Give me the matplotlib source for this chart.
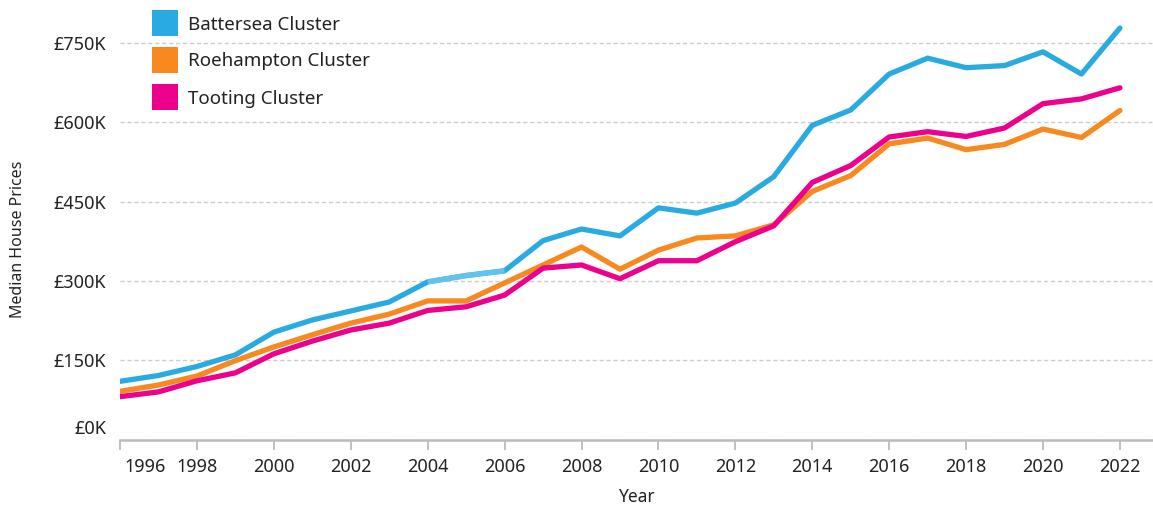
import matplotlib
matplotlib.use("Agg")
import matplotlib.pyplot as plt
import matplotlib.transforms as mtransforms
from matplotlib.patches import Rectangle

years = list(range(1996, 2023))
battersea = [110, 121, 138, 160, 203, 226, 243, 260, 298, 310, 319, 376, 398, 385, 438, 428, 447, 497,
             594, 623, 691, 721, 703, 707, 733, 691, 778]
roehampton = [91, 103, 120, 149, 175, 198, 220, 237, 262, 262, 296, 330, 364, 322, 358, 381, 385, 406,
              469, 499, 559, 570, 548, 558, 587, 571, 622]
tooting = [81, 90, 111, 126, 162, 186, 207, 220, 244, 251, 273, 324, 330, 304, 338, 338, 374, 404,
           486, 518, 572, 582, 573, 589, 635, 644, 665]
highlight_years = [2004, 2005, 2006]
series_names = ["Battersea Cluster", "Roehampton Cluster", "Tooting Cluster"]
y_ticks = [0, 150, 300, 450, 600, 750]
x_ticks = list(range(1996, 2023, 2))

colors = ["#29abe2", "#f7891f", "#ec008c"]
light_blue = "#62c3ec"

plt.rcParams['font.family'] = ['Noto Sans', 'DejaVu Sans']
W, H = 1153, 509
fig = plt.figure(figsize=(W / 100, H / 100), dpi=100)
ax = fig.add_axes([120 / W, (H - 439.5) / H, (W - 120) / W, 439.5 / H])

lw = 3.8
for vals, c in [(roehampton, colors[1]), (tooting, colors[2]), (battersea, colors[0])]:
    ax.plot(years, vals, color=c, lw=lw, solid_capstyle='round', solid_joinstyle='round', zorder=3)
# lighter highlighted segment on Battersea
idx = [years.index(y) for y in highlight_years]
ax.plot(highlight_years, [battersea[i] for i in idx], color=light_blue, lw=lw,
        solid_capstyle='butt', solid_joinstyle='round', zorder=4)

ax.set_xlim(1996, 2022.86)
ax.set_ylim(0, 831)
ax.set_yticks(y_ticks)
ax.set_yticklabels([f"£{v}K" for v in y_ticks])
ax.set_xticks(x_ticks)
ax.set_xticklabels([str(x) for x in x_ticks])

ax.grid(axis='y', color='#cccccc', linestyle=(0, (3, 2)), linewidth=1.0)
ax.grid(axis='x', visible=False)
ax.set_axisbelow(True)
for s in ['left', 'right', 'top']:
    ax.spines[s].set_visible(False)
ax.spines['bottom'].set_color('#bbbbbb')
ax.spines['bottom'].set_linewidth(1.8)
ax.tick_params(axis='y', length=0, pad=10, labelsize=13, labelcolor='#222222')
ax.tick_params(axis='x', length=7, width=1.3, color='#bbbbbb', pad=6, labelsize=13, labelcolor='#222222')

# shift first tick labels as in reference
lbl0 = ax.get_yticklabels()[0]
lbl0.set_transform(lbl0.get_transform() + mtransforms.ScaledTranslation(0, 12 / 100, fig.dpi_scale_trans))
xl0 = ax.get_xticklabels()[0]
xl0.set_horizontalalignment('left')
xl0.set_transform(xl0.get_transform() + mtransforms.ScaledTranslation(4 / 100, 0, fig.dpi_scale_trans))

ax.set_xlabel("Year", fontsize=12.5, color='#222222', labelpad=9)
fig.text(18 / W, 1 - 239 / H, "Median House Prices", rotation=90, ha='center', va='center',
         fontsize=11.5, color='#222222')

# legend
for i, (name, c) in enumerate(zip(series_names, colors)):
    yc = 23 + i * 37
    fig.add_artist(Rectangle((152 / W, 1 - (yc + 13) / H), 26 / W, 26 / H, transform=fig.transFigure,
                             facecolor=c, edgecolor='none'))
    fig.text(188 / W, 1 - (yc + 1.5) / H, name, ha='left', va='center', fontsize=13.5, color='#222222')

fig.savefig("out.png", dpi=100)
